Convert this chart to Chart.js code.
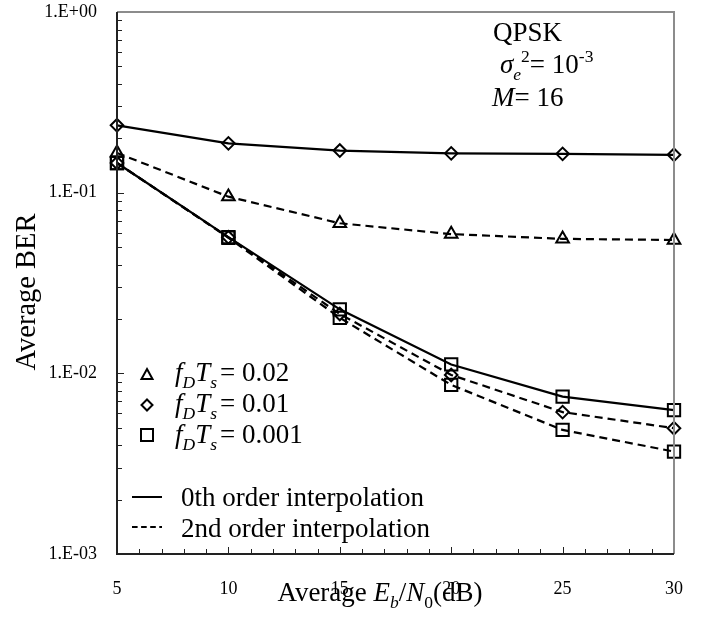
<!DOCTYPE html>
<html>
<head>
<meta charset="utf-8">
<script src="https://cdn.jsdelivr.net/npm/chart.js@4.4.1/dist/chart.umd.min.js"></script>
<style>
  body { margin: 0; background: #fff; }
  #wrap { width: 709px; height: 626px; }
</style>
</head>
<body>
<div id="wrap"><canvas id="berChart" width="709" height="626"></canvas></div>
<script>
const snr = [5, 10, 15, 20, 25, 30];
const xTicks = [5, 10, 15, 20, 25, 30];
const yTicks = [0.001, 0.01, 0.1, 1];
const yTickLabels = ['1.E-03', '1.E-02', '1.E-01', '1.E+00'];

// fD*Ts = 0.01, 0th order
const ber001Zero = [0.236, 0.1875, 0.171, 0.165, 0.164, 0.162];
// fD*Ts = 0.02, 2nd order
const ber002Second = [0.166, 0.095, 0.0677, 0.059, 0.0555, 0.0547];
// fD*Ts = 0.001, 0th order
const ber0001Zero = [0.146, 0.0568, 0.0226, 0.0112, 0.00743, 0.00625];
// fD*Ts = 0.01, 2nd order
const ber001Second = [0.146, 0.0566, 0.0213, 0.0098, 0.0061, 0.00497];
// fD*Ts = 0.001, 2nd order
const ber0001Second = [0.146, 0.0563, 0.0203, 0.00863, 0.00486, 0.00369];

const FONT = '"Liberation Serif", "Times New Roman", serif';
const DASH = [8, 5];

function toPoints(arr) {
    return snr.map((x, i) => ({ x: x, y: arr[i] }));
}

function series(data, style, radius, dashed) {
    return {
        data: toPoints(data),
        borderColor: '#000',
        borderWidth: 2.2,
        borderDash: dashed ? DASH : [],
        pointStyle: style,
        pointRadius: radius,
        pointHoverRadius: radius,
        pointBorderColor: '#000',
        pointBackgroundColor: 'rgba(0,0,0,0)',
        pointBorderWidth: 2,
        fill: false,
        tension: 0,
        clip: false
    };
}

// draws text made of pieces: {t, it, sub, sup}
function drawRich(ctx, x, y, parts, size) {
    ctx.textBaseline = 'alphabetic';
    ctx.textAlign = 'left';
    parts.forEach(p => {
        const s = (p.sub || p.sup) ? size * 0.65 : size;
        ctx.font = (p.it ? 'italic ' : '') + s + 'px ' + FONT;
        let dy = 0;
        if (p.sub) dy = size * 0.25;
        if (p.sup) dy = -size * 0.4;
        ctx.fillText(p.t, x, y + dy);
        x += ctx.measureText(p.t).width + (p.gap || 0);
    });
    return x;
}

function richWidth(ctx, parts, size) {
    let w = 0;
    parts.forEach(p => {
        const s = (p.sub || p.sup) ? size * 0.65 : size;
        ctx.font = (p.it ? 'italic ' : '') + s + 'px ' + FONT;
        w += ctx.measureText(p.t).width + (p.gap || 0);
    });
    return w;
}

const decorPlugin = {
    id: 'decor',
    afterDraw(chart) {
        const ctx = chart.ctx;
        const a = chart.chartArea;
        const xs = chart.scales.x;
        const ys = chart.scales.y;
        ctx.save();

        // frame: top and right grey
        ctx.strokeStyle = '#8c8c8c';
        ctx.lineWidth = 2;
        ctx.beginPath();
        ctx.moveTo(a.left, a.top);
        ctx.lineTo(a.right, a.top);
        ctx.lineTo(a.right, a.bottom);
        ctx.stroke();
        // left and bottom dark
        ctx.strokeStyle = '#222';
        ctx.beginPath();
        ctx.moveTo(a.left, a.top);
        ctx.lineTo(a.left, a.bottom);
        ctx.lineTo(a.right, a.bottom);
        ctx.stroke();

        // inner ticks
        ctx.lineWidth = 1;
        ctx.strokeStyle = '#222';
        for (let v = 6; v < 30; v++) {
            const px = Math.round(xs.getPixelForValue(v)) + 0.5;
            const len = v % 5 === 0 ? 7 : 5;
            ctx.beginPath();
            ctx.moveTo(px, a.bottom);
            ctx.lineTo(px, a.bottom - len);
            ctx.stroke();
        }
        for (let d = -3; d < 0; d++) {
            for (let m = 1; m < 10; m++) {
                if (d === -3 && m === 1) continue;
                const py = Math.round(ys.getPixelForValue(m * Math.pow(10, d))) + 0.5;
                const len = m === 1 ? 7 : 5;
                ctx.beginPath();
                ctx.moveTo(a.left, py);
                ctx.lineTo(a.left + len, py);
                ctx.stroke();
            }
        }

        ctx.fillStyle = '#000';
        const size = 27;

        // axis titles
        const xTitle = [
            { t: 'Average ' }, { t: 'E', it: true }, { t: 'b', it: true, sub: true },
            { t: '/' }, { t: 'N', it: true }, { t: '0', sub: true }, { t: '(dB)' }
        ];
        const xw = richWidth(ctx, xTitle, size);
        drawRich(ctx, 380 - xw / 2, 601, xTitle, size);

        ctx.save();
        ctx.translate(35, 292);
        ctx.rotate(-Math.PI / 2);
        ctx.font = '28.5px ' + FONT;
        ctx.textAlign = 'center';
        ctx.textBaseline = 'alphabetic';
        ctx.fillText('Average BER', 0, 0);
        ctx.restore();

        // annotation
        drawRich(ctx, 493, 41, [{ t: 'QPSK' }], size);
        drawRich(ctx, 500, 73, [
            { t: 'σ', it: true }, { t: 'e', it: true, sub: true }, { t: '2', sup: true },
            { t: '= 10' }, { t: '-3', sup: true }
        ], size);
        drawRich(ctx, 492, 106, [{ t: 'M', it: true }, { t: '= 16' }], size);

        // legend
        const legendRows = [
            { style: 'triangle', y: 375, base: 381, val: '0.02' },
            { style: 'diamond', y: 405, base: 412, val: '0.01' },
            { style: 'square', y: 435, base: 443, val: '0.001' }
        ];
        ctx.strokeStyle = '#000';
        ctx.lineWidth = 2;
        legendRows.forEach(r => {
            const cx = 147;
            ctx.beginPath();
            if (r.style === 'triangle') {
                ctx.moveTo(cx, r.y - 6);
                ctx.lineTo(cx + 5.5, r.y + 4);
                ctx.lineTo(cx - 5.5, r.y + 4);
                ctx.closePath();
            } else if (r.style === 'diamond') {
                ctx.moveTo(cx, r.y - 5.5);
                ctx.lineTo(cx + 5.5, r.y);
                ctx.lineTo(cx, r.y + 5.5);
                ctx.lineTo(cx - 5.5, r.y);
                ctx.closePath();
            } else {
                ctx.rect(cx - 6, r.y - 6, 12, 12);
            }
            ctx.stroke();
            drawRich(ctx, 175, r.base, [
                { t: 'f', it: true }, { t: 'D', it: true, sub: true }, { t: 'T', it: true },
                { t: 's', it: true, sub: true, gap: 3 }, { t: '= ' + r.val }
            ], size);
        });

        ctx.lineWidth = 2;
        ctx.setLineDash([]);
        ctx.beginPath();
        ctx.moveTo(132, 497);
        ctx.lineTo(162, 497);
        ctx.stroke();
        ctx.setLineDash(DASH.map(v => v * 0.7));
        ctx.beginPath();
        ctx.moveTo(132, 527);
        ctx.lineTo(162, 527);
        ctx.stroke();
        ctx.setLineDash([]);
        drawRich(ctx, 181, 506, [{ t: '0th order interpolation' }], size);
        drawRich(ctx, 181, 537, [{ t: '2nd order interpolation' }], size);

        ctx.restore();
    }
};

new Chart(document.getElementById('berChart'), {
    type: 'line',
    data: {
        datasets: [
            series(ber001Zero, 'rectRot', 6.3, false),
            series(ber002Second, 'triangle', 7.3, true),
            series(ber0001Zero, 'rect', 8.7, false),
            series(ber001Second, 'rectRot', 6.3, true),
            series(ber0001Second, 'rect', 8.7, true)
        ]
    },
    options: {
        responsive: false,
        animation: false,
        events: [],
        layout: { padding: { left: 0, right: 35, top: 12, bottom: 0 } },
        plugins: { legend: { display: false }, tooltip: { enabled: false } },
        scales: {
            x: {
                type: 'linear',
                min: 5,
                max: 30,
                afterBuildTicks: s => { s.ticks = xTicks.map(v => ({ value: v })); },
                afterFit: s => { s.height = 72; s.paddingLeft = 0; s.paddingRight = 0; },
                grid: { display: false, drawTicks: false },
                border: { display: false },
                ticks: {
                    padding: 24,
                    color: '#000',
                    font: { family: FONT, size: 18 },
                    maxRotation: 0
                }
            },
            y: {
                type: 'logarithmic',
                min: 0.001,
                max: 1,
                afterBuildTicks: s => { s.ticks = yTicks.map(v => ({ value: v })); },
                afterFit: s => { s.width = 117; s.paddingTop = 0; s.paddingBottom = 0; },
                grid: { display: false, drawTicks: false },
                border: { display: false },
                ticks: {
                    padding: 20,
                    color: '#000',
                    font: { family: FONT, size: 18 },
                    callback: v => {
                        const i = yTicks.indexOf(v);
                        return i >= 0 ? yTickLabels[i] : '';
                    }
                }
            }
        }
    },
    plugins: [decorPlugin]
});
</script>
</body>
</html>
